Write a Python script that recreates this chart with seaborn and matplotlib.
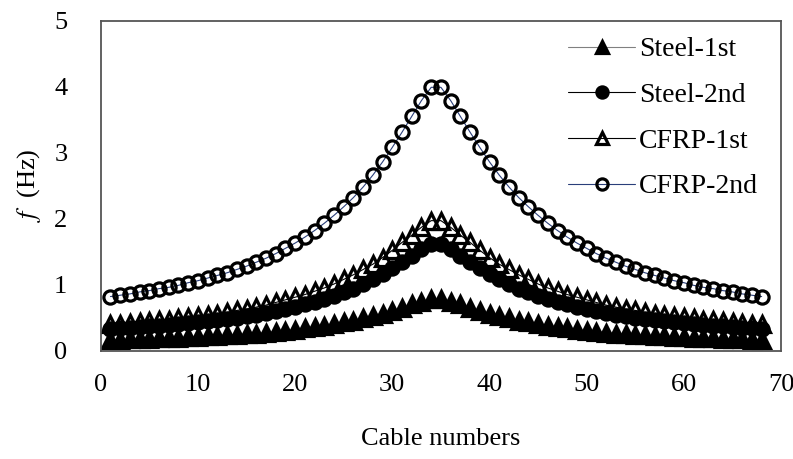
import numpy as np
import pandas as pd
import matplotlib
matplotlib.use("Agg")
import matplotlib.pyplot as plt
import seaborn as sns

# cable numbers 1..68
cables = list(range(1, 69))

steel_1st = [0.16, 0.165, 0.17, 0.175, 0.18, 0.185, 0.19, 0.195, 0.20, 0.21, 0.215, 0.225,
             0.23, 0.24, 0.25, 0.26, 0.275, 0.29, 0.30, 0.32, 0.34, 0.36, 0.38, 0.40,
             0.43, 0.45, 0.49, 0.52, 0.56, 0.60, 0.65, 0.70, 0.74, 0.78,
             0.78, 0.74, 0.70, 0.65, 0.60, 0.56, 0.52, 0.49, 0.45, 0.43, 0.40, 0.38,
             0.36, 0.34, 0.32, 0.30, 0.29, 0.275, 0.26, 0.25, 0.24, 0.23, 0.225, 0.215,
             0.21, 0.20, 0.195, 0.19, 0.185, 0.18, 0.175, 0.17, 0.165, 0.16]

steel_2nd = [0.33, 0.34, 0.35, 0.36, 0.37, 0.38, 0.39, 0.40, 0.42, 0.43, 0.45, 0.46,
             0.48, 0.50, 0.52, 0.54, 0.57, 0.60, 0.63, 0.66, 0.70, 0.74, 0.78, 0.83,
             0.89, 0.94, 1.01, 1.08, 1.16, 1.25, 1.34, 1.44, 1.54, 1.62,
             1.62, 1.54, 1.44, 1.34, 1.25, 1.16, 1.08, 1.01, 0.94, 0.89, 0.83, 0.78,
             0.74, 0.70, 0.66, 0.63, 0.60, 0.57, 0.54, 0.52, 0.50, 0.48, 0.46, 0.45,
             0.43, 0.42, 0.40, 0.39, 0.38, 0.37, 0.36, 0.35, 0.34, 0.33]

cfrp_1st = [0.41, 0.41, 0.42, 0.44, 0.45, 0.46, 0.47, 0.49, 0.51, 0.52, 0.54, 0.56,
            0.58, 0.61, 0.63, 0.66, 0.69, 0.73, 0.77, 0.81, 0.85, 0.90, 0.95, 1.01,
            1.08, 1.15, 1.23, 1.31, 1.41, 1.52, 1.64, 1.75, 1.87, 1.97,
            1.97, 1.87, 1.75, 1.64, 1.52, 1.41, 1.31, 1.23, 1.15, 1.08, 1.01, 0.95,
            0.90, 0.85, 0.81, 0.77, 0.73, 0.69, 0.66, 0.63, 0.61, 0.58, 0.56, 0.54,
            0.52, 0.51, 0.49, 0.47, 0.46, 0.45, 0.44, 0.42, 0.41, 0.41]

cfrp_2nd = [0.82, 0.84, 0.86, 0.89, 0.91, 0.94, 0.96, 0.99, 1.03, 1.06, 1.10, 1.14,
            1.18, 1.23, 1.28, 1.34, 1.40, 1.47, 1.55, 1.63, 1.72, 1.82, 1.93, 2.05,
            2.18, 2.32, 2.48, 2.66, 2.86, 3.08, 3.31, 3.55, 3.79, 3.99,
            3.99, 3.79, 3.55, 3.31, 3.08, 2.86, 2.66, 2.48, 2.32, 2.18, 2.05, 1.93,
            1.82, 1.72, 1.63, 1.55, 1.47, 1.40, 1.34, 1.28, 1.23, 1.18, 1.14, 1.10,
            1.06, 1.03, 0.99, 0.96, 0.94, 0.91, 0.89, 0.86, 0.84, 0.82]

series_names = ["Steel-1st", "Steel-2nd", "CFRP-1st", "CFRP-2nd"]
series_values = [steel_1st, steel_2nd, cfrp_1st, cfrp_2nd]

sns.set_style("white")
plt.rcParams["font.family"] = ["Liberation Serif", "DejaVu Serif"]
plt.rcParams["mathtext.fontset"] = "stix"
plt.rcParams["text.color"] = "black"
plt.rcParams["axes.labelcolor"] = "black"
plt.rcParams["xtick.labelcolor"] = "black"
plt.rcParams["ytick.labelcolor"] = "black"

# marker, face colour, line colour
styles = {
    "Steel-1st": ("^", "black", "#808080"),
    "Steel-2nd": ("o", "black", "black"),
    "CFRP-1st": ("^", "none", "black"),
    "CFRP-2nd": ("o", "none", "#2a3f7a"),
}

fig = plt.figure(figsize=(7.93, 4.59), dpi=100)
ax = fig.add_axes([0.127, 0.236, 0.858, 0.719])

for name, vals in zip(series_names, series_values):
    df = pd.DataFrame({"cable": cables, "f": vals})
    marker, face, lcolor = styles[name]
    sns.lineplot(
        data=df, x="cable", y="f", ax=ax, label=name,
        color=lcolor, linewidth=0.8,
        marker=marker, markersize=9.5 if marker == "o" else 11,
        markerfacecolor=face, markeredgecolor="black", markeredgewidth=2.3,
    )

ax.set_xlim(0, 70)
ax.set_ylim(0, 5)
ax.set_xticks(range(0, 71, 10))
ax.set_yticks(range(0, 6))
ax.tick_params(direction="in", length=6, width=1, color="#555555", labelsize=19)
ax.tick_params(axis="x", pad=17)
ax.tick_params(axis="y", pad=24)
for s in ax.spines.values():
    s.set_visible(True)
    s.set_color("#555555")
    s.set_linewidth(1.3)

ax.set_xlabel("Cable numbers", fontsize=19, labelpad=23)
ax.set_ylabel(r"$f$  (Hz)", fontsize=19, labelpad=8)

ax.legend(loc="upper right", bbox_to_anchor=(0.995, 1.01), frameon=False,
          fontsize=20, handlelength=2.4, labelspacing=0.73,
          handletextpad=0.15, borderpad=0.2, markerscale=0.85)

fig.savefig("out.png", dpi=100)
